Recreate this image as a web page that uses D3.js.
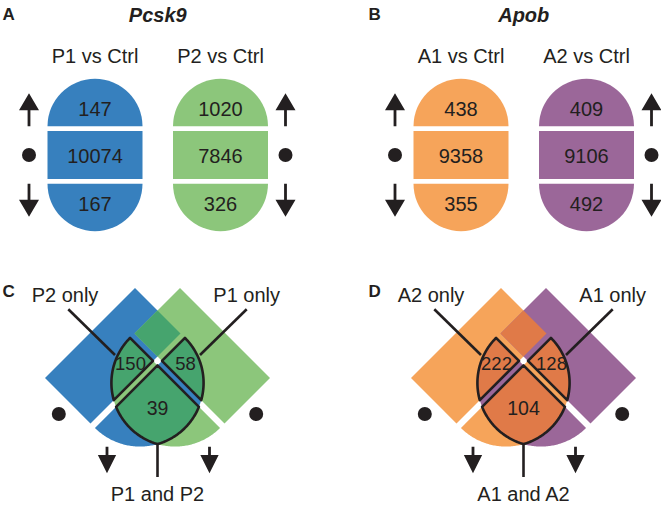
<!DOCTYPE html>
<html><head><meta charset="utf-8">
<script src="https://cdn.jsdelivr.net/npm/d3@7"></script>
<style>
body{margin:0;background:#fff}
svg{display:block}
text{font-family:"Liberation Sans",Arial,Helvetica,sans-serif;fill:#231f20}
</style>
</head><body>
<svg id="chart" width="661" height="509"></svg>
<script>
// ---------- data ----------
const pcskGroups = ["P1 vs Ctrl", "P2 vs Ctrl"];
const pcskUp = [147, 1020];
const pcskSame = [10074, 7846];
const pcskDown = [167, 326];

const apobGroups = ["A1 vs Ctrl", "A2 vs Ctrl"];
const apobUp = [438, 409];
const apobSame = [9358, 9106];
const apobDown = [355, 492];

const pcskVennLabels = ["P2 only", "P1 only", "P1 and P2"];
const pcskVenn = [150, 58, 39];
const apobVennLabels = ["A2 only", "A1 only", "A1 and A2"];
const apobVenn = [222, 128, 104];

// ---------- style ----------
const pcskColors = ["#3780be", "#8cc67b"], pcskOverlap = "#46a46e";
const apobColors = ["#f6a45a", "#9b6799"], apobOverlap = "#e07a48";
const ink = "#231f20";

const svg = d3.select("#chart");

// ---------- helpers ----------
function arrowPath(x, yTop, yBot, dir, headW, headH, shaftW) {
  const hw = headW / 2, sw = shaftW / 2;
  let pts;
  if (dir === 1) {
    pts = [[x, yTop], [x + hw, yTop + headH], [x + sw, yTop + headH], [x + sw, yBot],
           [x - sw, yBot], [x - sw, yTop + headH], [x - hw, yTop + headH]];
  } else {
    pts = [[x, yBot], [x + hw, yBot - headH], [x + sw, yBot - headH], [x + sw, yTop],
           [x - sw, yTop], [x - sw, yBot - headH], [x - hw, yBot - headH]];
  }
  return "M" + pts.map(p => p.join(",")).join("L") + "Z";
}

// ---------- panels A / B ----------
const R = 47.5, rectH = 48, gap = 4.7, midY = 155;
const yScale = d3.scalePoint().domain(["up", "same", "down"]).range([109, 203.4]);

function drawPills(offX, groups, up, same, down, colors, title, letter) {
  const x = d3.scalePoint().domain(groups).range([95 + offX, 220.5 + offX]);
  const g = svg.append("g");
  g.append("text").attr("x", 2.5 + offX).attr("y", 19.5)
    .attr("font-size", 17).attr("font-weight", "bold").text(letter);
  g.append("text").attr("x", (x.range()[0] + x.range()[1]) / 2).attr("y", 22)
    .attr("text-anchor", "middle").attr("font-size", 20)
    .attr("font-weight", "bold").attr("font-style", "italic").text(title);

  const topArc = d3.arc().innerRadius(0).outerRadius(R).startAngle(-Math.PI / 2).endAngle(Math.PI / 2);
  const botArc = d3.arc().innerRadius(0).outerRadius(R).startAngle(Math.PI / 2).endAngle(3 * Math.PI / 2);

  groups.forEach((grp, i) => {
    const cx = x(grp);
    const col = colors[i];
    g.append("text").attr("x", cx).attr("y", 63.3).attr("text-anchor", "middle")
      .attr("font-size", 20).text(grp);
    const yTopEdge = midY - rectH / 2 - gap;
    const yBotEdge = midY + rectH / 2 + gap;
    g.append("path").attr("d", topArc()).attr("transform", `translate(${cx},${yTopEdge})`).attr("fill", col);
    g.append("rect").attr("x", cx - R).attr("y", midY - rectH / 2).attr("width", 2 * R).attr("height", rectH).attr("fill", col);
    g.append("path").attr("d", botArc()).attr("transform", `translate(${cx},${yBotEdge})`).attr("fill", col);

    const vals = [up[i], same[i], down[i]];
    ["up", "same", "down"].forEach((k, j) => {
      g.append("text").attr("x", cx).attr("y", yScale(k) + 7.2).attr("text-anchor", "middle")
        .attr("font-size", 20).text(d3.format("d")(vals[j]));
    });

    const ax = cx + (i === 0 ? -66 : 65);
    g.append("path").attr("d", arrowPath(ax, 93.3, yTopEdge, 1, 20, 17, 2.8)).attr("fill", ink);
    g.append("circle").attr("cx", ax).attr("cy", midY).attr("r", 7).attr("fill", ink);
    g.append("path").attr("d", arrowPath(ax, yBotEdge, 216.8, -1, 20, 17, 2.8)).attr("fill", ink);
  });
}

drawPills(0, pcskGroups, pcskUp, pcskSame, pcskDown, pcskColors, "Pcsk9", "A");
drawPills(366, apobGroups, apobUp, apobSame, apobDown, apobColors, "Apob", "B");

// ---------- panels C / D ----------
function clipConvex(subject, clipPoly) {
  const c = d3.polygonCentroid(clipPoly);
  let out = subject;
  for (let i = 0; i < clipPoly.length; i++) {
    const a = clipPoly[i], b = clipPoly[(i + 1) % clipPoly.length];
    if (Math.hypot(b[0] - a[0], b[1] - a[1]) < 1e-9) continue;
    const side = p => (b[0] - a[0]) * (p[1] - a[1]) - (b[1] - a[1]) * (p[0] - a[0]);
    const sc = Math.sign(side(c));
    const inp = out; out = [];
    for (let j = 0; j < inp.length; j++) {
      const P = inp[j], Q = inp[(j + 1) % inp.length];
      const sp = side(P) * sc, sq = side(Q) * sc;
      if (sp >= 0) out.push(P);
      if ((sp >= 0) !== (sq >= 0)) {
        const t = sp / (sp - sq);
        out.push([P[0] + t * (Q[0] - P[0]), P[1] + t * (Q[1] - P[1])]);
      }
    }
    if (!out.length) break;
  }
  return out;
}

const sc = 1.34, W = 95 * sc, hh = W / 2, L = 48 * sc, gp = 4.7 * sc, rr = hh;
const S2 = Math.SQRT1_2;

function pillShapes(P0, u, n) {
  const add = (p, v, k) => [p[0] + v[0] * k, p[1] + v[1] * k];
  const a = add(P0, n, hh), d = add(P0, n, -hh);
  const rect = [a, add(a, u, L), add(d, u, L), d];
  const C = add(P0, u, L + gp);
  const cap = d3.range(0, 181).map(i => {
    const t = i / 180 * Math.PI;
    return [C[0] + rr * (Math.cos(t) * n[0] + Math.sin(t) * u[0]),
            C[1] + rr * (Math.cos(t) * n[1] + Math.sin(t) * u[1])];
  });
  return { rect, cap };
}

const line = d3.line().curve(d3.curveLinearClosed);

function drawVenn(offX, colors, overlap, labels, values, letter) {
  const cx = 157.5 + offX;
  const g = svg.append("g");
  g.append("text").attr("x", 2.5 + offX).attr("y", 297).attr("font-size", 17)
    .attr("font-weight", "bold").text(letter);

  const left = pillShapes([cx - 67.5, 333], [S2, S2], [S2, -S2]);
  const right = pillShapes([cx + 67.5, 333], [-S2, S2], [-S2, -S2]);

  [[left, colors[0]], [right, colors[1]]].forEach(([p, col]) => {
    g.append("path").attr("d", line(p.rect)).attr("fill", col);
    g.append("path").attr("d", line(p.cap)).attr("fill", col);
  });

  const rr_ = clipConvex(right.rect, left.rect);
  const capRect = clipConvex(right.cap, left.rect);
  const rectCap = clipConvex(left.cap, right.rect);
  const capCap = clipConvex(left.cap, right.cap);

  g.append("path").attr("d", line(rr_)).attr("fill", overlap);
  [capRect, rectCap, capCap].forEach(poly => {
    g.append("path").attr("d", line(poly)).attr("fill", overlap)
      .attr("stroke", ink).attr("stroke-width", 2.6).attr("stroke-linejoin", "round");
  });

  g.append("text").attr("x", cx - 27).attr("y", 370).attr("text-anchor", "middle")
    .attr("font-size", 18.5).text(values[0]);
  g.append("text").attr("x", cx + 28).attr("y", 370).attr("text-anchor", "middle")
    .attr("font-size", 18.5).text(values[1]);
  g.append("text").attr("x", cx).attr("y", 414.5).attr("text-anchor", "middle")
    .attr("font-size", 19.5).text(values[2]);

  const bottomY = d3.max(capCap, p => p[1]);
  g.append("line").attr("x1", cx - 89.2).attr("y1", 309.3).attr("x2", cx - 42.5).attr("y2", 355)
    .attr("stroke", ink).attr("stroke-width", 2.6);
  g.append("line").attr("x1", cx + 89.2).attr("y1", 309.3).attr("x2", cx + 42.5).attr("y2", 355)
    .attr("stroke", ink).attr("stroke-width", 2.6);
  g.append("line").attr("x1", cx).attr("y1", bottomY - 1).attr("x2", cx).attr("y2", 477)
    .attr("stroke", ink).attr("stroke-width", 2.6);

  g.append("text").attr("x", cx - 92.5).attr("y", 302).attr("text-anchor", "middle")
    .attr("font-size", 20).text(labels[0]);
  g.append("text").attr("x", cx + 89.2).attr("y", 302).attr("text-anchor", "middle")
    .attr("font-size", 20).text(labels[1]);
  g.append("text").attr("x", cx).attr("y", 501).attr("text-anchor", "middle")
    .attr("font-size", 20).text(labels[2]);

  [-98.7, 98.7].forEach(dx => g.append("circle").attr("cx", cx + dx).attr("cy", 414).attr("r", 7).attr("fill", ink));
  [-50.5, 52].forEach(dx => g.append("path")
    .attr("d", arrowPath(cx + dx, 446.7, 473.3, -1, 18.3, 18.3, 2.8)).attr("fill", ink));
}

drawVenn(0, pcskColors, pcskOverlap, pcskVennLabels, pcskVenn, "C");
drawVenn(366, apobColors, apobOverlap, apobVennLabels, apobVenn, "D");
</script>
</body></html>
